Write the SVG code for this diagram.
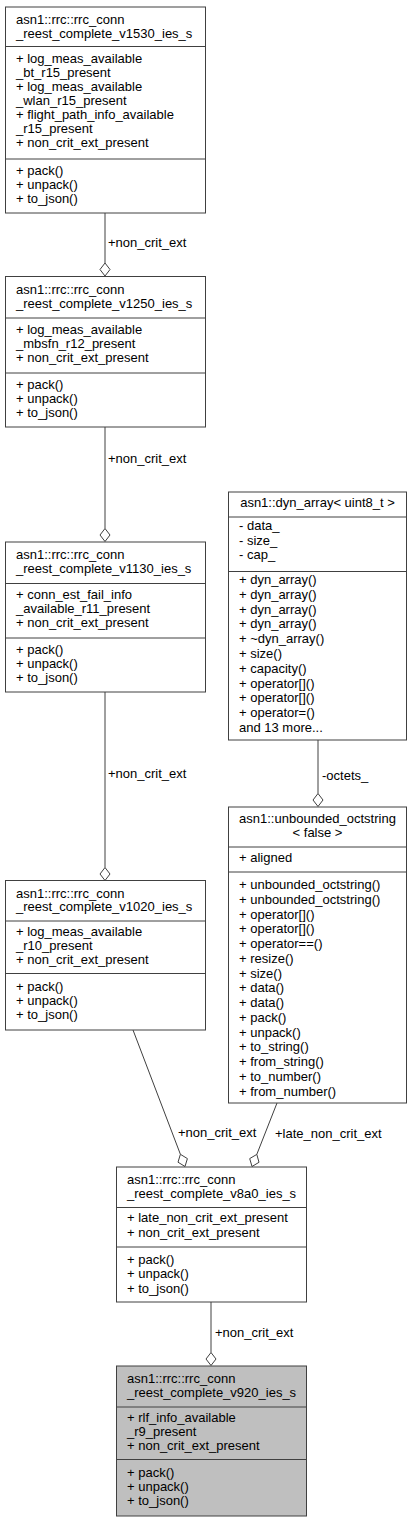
<svg xmlns="http://www.w3.org/2000/svg" width="413" height="1521" viewBox="0 0 413 1521">
<style>
text{font-family:"Liberation Sans",Arial,sans-serif;font-size:13px;fill:#000}
.box{fill:#fff;stroke:#404040;stroke-width:1}
.hl{fill:#bfbfbf}
.sep{stroke:#404040;stroke-width:1}
.edge{stroke:#404040;stroke-width:1;fill:none}
.dia{fill:#fff;stroke:#404040;stroke-width:1}
.c{text-anchor:middle}
</style>
<rect width="413" height="1521" fill="#fff"/>
<g id="connectors">
<line class="edge" x1="105" y1="213" x2="105" y2="263"/>
<polygon class="dia" points="105,276 100,269.5 105,263 110,269.5"/>
<text x="108" y="247">+non_crit_ext</text>
<line class="edge" x1="105" y1="427" x2="105" y2="528.5"/>
<polygon class="dia" points="105,541.5 100,535 105,528.5 110,535"/>
<text x="108" y="463">+non_crit_ext</text>
<line class="edge" x1="105" y1="692" x2="105" y2="867.5"/>
<polygon class="dia" points="105,880.5 100,874 105,867.5 110,874"/>
<text x="108" y="778">+non_crit_ext</text>
<line class="edge" x1="318" y1="740" x2="318" y2="793.5"/>
<polygon class="dia" points="318,806.5 313,800 318,793.5 323,800"/>
<text x="322" y="780">-octets_</text>
<line class="edge" x1="133" y1="1030" x2="180.4" y2="1154.3"/>
<polygon class="dia" points="185,1166.5 187.4,1158.6 180.4,1154.3 178,1162.2"/>
<text x="178" y="1137">+non_crit_ext</text>
<line class="edge" x1="277" y1="1103" x2="256.8" y2="1154.4"/>
<polygon class="dia" points="252,1166.5 259,1162.3 256.8,1154.4 249.7,1158.6"/>
<text x="275" y="1138">+late_non_crit_ext</text>
<line class="edge" x1="211" y1="1302" x2="211" y2="1352.5"/>
<polygon class="dia" points="211,1365.5 206,1359 211,1352.5 216,1359"/>
<text x="215" y="1337">+non_crit_ext</text>
</g>
<g id="v1530">
<rect class="box" x="5.5" y="7" width="200" height="206"/>
<line class="sep" x1="5.5" y1="46.5" x2="205.5" y2="46.5"/>
<line class="sep" x1="5.5" y1="159" x2="205.5" y2="159"/>
<text x="16" y="24">asn1::rrc::rrc_conn</text>
<text x="16" y="38">_reest_complete_v1530_ies_s</text>
<text x="16" y="62.5">+ log_meas_available</text>
<text x="16" y="76.6">_bt_r15_present</text>
<text x="16" y="90.7">+ log_meas_available</text>
<text x="16" y="104.8">_wlan_r15_present</text>
<text x="16" y="118.9">+ flight_path_info_available</text>
<text x="16" y="133">_r15_present</text>
<text x="16" y="147.1">+ non_crit_ext_present</text>
<text x="16" y="175">+ pack()</text>
<text x="16" y="189.2">+ unpack()</text>
<text x="16" y="203.4">+ to_json()</text>
</g>
<g id="v1250">
<rect class="box" x="5.5" y="276.5" width="200" height="150.5"/>
<line class="sep" x1="5.5" y1="318" x2="205.5" y2="318"/>
<line class="sep" x1="5.5" y1="373" x2="205.5" y2="373"/>
<text x="16" y="293.5">asn1::rrc::rrc_conn</text>
<text x="16" y="307.5">_reest_complete_v1250_ies_s</text>
<text x="16" y="333.5">+ log_meas_available</text>
<text x="16" y="347.7">_mbsfn_r12_present</text>
<text x="16" y="361.9">+ non_crit_ext_present</text>
<text x="16" y="388.5">+ pack()</text>
<text x="16" y="402.7">+ unpack()</text>
<text x="16" y="416.9">+ to_json()</text>
</g>
<g id="v1130">
<rect class="box" x="5.5" y="542" width="200" height="150"/>
<line class="sep" x1="5.5" y1="583.5" x2="205.5" y2="583.5"/>
<line class="sep" x1="5.5" y1="638" x2="205.5" y2="638"/>
<text x="16" y="559">asn1::rrc::rrc_conn</text>
<text x="16" y="573">_reest_complete_v1130_ies_s</text>
<text x="16" y="599">+ conn_est_fail_info</text>
<text x="16" y="613.2">_available_r11_present</text>
<text x="16" y="627.4">+ non_crit_ext_present</text>
<text x="16" y="653.5">+ pack()</text>
<text x="16" y="667.7">+ unpack()</text>
<text x="16" y="681.9">+ to_json()</text>
</g>
<g id="v1020">
<rect class="box" x="5.5" y="880.5" width="200" height="149.5"/>
<line class="sep" x1="5.5" y1="921" x2="205.5" y2="921"/>
<line class="sep" x1="5.5" y1="973.5" x2="205.5" y2="973.5"/>
<text x="16" y="897.5">asn1::rrc::rrc_conn</text>
<text x="16" y="911">_reest_complete_v1020_ies_s</text>
<text x="16" y="936">+ log_meas_available</text>
<text x="16" y="950.2">_r10_present</text>
<text x="16" y="964.4">+ non_crit_ext_present</text>
<text x="16" y="990.5">+ pack()</text>
<text x="16" y="1004.7">+ unpack()</text>
<text x="16" y="1018.9">+ to_json()</text>
</g>
<g id="dyn_array">
<rect class="box" x="228.5" y="492" width="178" height="248"/>
<line class="sep" x1="228.5" y1="517" x2="406.5" y2="517"/>
<line class="sep" x1="228.5" y1="571.5" x2="406.5" y2="571.5"/>
<text class="c" x="317.5" y="507">asn1::dyn_array&lt; uint8_t &gt;</text>
<text x="239" y="530">- data_</text>
<text x="239" y="544.5">- size_</text>
<text x="239" y="559">- cap_</text>
<text x="239" y="584">+ dyn_array()</text>
<text x="239" y="598.8">+ dyn_array()</text>
<text x="239" y="613.6">+ dyn_array()</text>
<text x="239" y="628.4">+ dyn_array()</text>
<text x="239" y="643.2">+ ~dyn_array()</text>
<text x="239" y="658">+ size()</text>
<text x="239" y="672.8">+ capacity()</text>
<text x="239" y="687.6">+ operator[]()</text>
<text x="239" y="702.4">+ operator[]()</text>
<text x="239" y="717.2">+ operator=()</text>
<text x="239" y="732">and 13 more...</text>
</g>
<g id="octstring">
<rect class="box" x="228.5" y="807" width="178" height="296"/>
<line class="sep" x1="228.5" y1="847" x2="406.5" y2="847"/>
<line class="sep" x1="228.5" y1="872" x2="406.5" y2="872"/>
<text class="c" x="317.5" y="823">asn1::unbounded_octstring</text>
<text class="c" x="317.5" y="837">&lt; false &gt;</text>
<text x="239" y="862">+ aligned</text>
<text x="239" y="889">+ unbounded_octstring()</text>
<text x="239" y="903.8">+ unbounded_octstring()</text>
<text x="239" y="918.5">+ operator[]()</text>
<text x="239" y="933.3">+ operator[]()</text>
<text x="239" y="948">+ operator==()</text>
<text x="239" y="962.8">+ resize()</text>
<text x="239" y="977.6">+ size()</text>
<text x="239" y="992.3">+ data()</text>
<text x="239" y="1007.1">+ data()</text>
<text x="239" y="1021.8">+ pack()</text>
<text x="239" y="1036.6">+ unpack()</text>
<text x="239" y="1051.4">+ to_string()</text>
<text x="239" y="1066.1">+ from_string()</text>
<text x="239" y="1080.9">+ to_number()</text>
<text x="239" y="1095.6">+ from_number()</text>
</g>
<g id="v8a0">
<rect class="box" x="116.5" y="1167" width="190" height="135"/>
<line class="sep" x1="116.5" y1="1207.5" x2="306.5" y2="1207.5"/>
<line class="sep" x1="116.5" y1="1247" x2="306.5" y2="1247"/>
<text x="127" y="1183.5">asn1::rrc::rrc_conn</text>
<text x="127" y="1197.7">_reest_complete_v8a0_ies_s</text>
<text x="127" y="1222">+ late_non_crit_ext_present</text>
<text x="127" y="1236.5">+ non_crit_ext_present</text>
<text x="127" y="1263.5">+ pack()</text>
<text x="127" y="1278">+ unpack()</text>
<text x="127" y="1292.5">+ to_json()</text>
</g>
<g id="v920">
<rect class="box hl" x="116.5" y="1366" width="190" height="150"/>
<line class="sep" x1="116.5" y1="1407" x2="306.5" y2="1407"/>
<line class="sep" x1="116.5" y1="1459.5" x2="306.5" y2="1459.5"/>
<text x="127" y="1382.5">asn1::rrc::rrc_conn</text>
<text x="127" y="1396.7">_reest_complete_v920_ies_s</text>
<text x="127" y="1422">+ rlf_info_available</text>
<text x="127" y="1436.2">_r9_present</text>
<text x="127" y="1450.4">+ non_crit_ext_present</text>
<text x="127" y="1476.7">+ pack()</text>
<text x="127" y="1490.9">+ unpack()</text>
<text x="127" y="1505.1">+ to_json()</text>
</g>
</svg>
